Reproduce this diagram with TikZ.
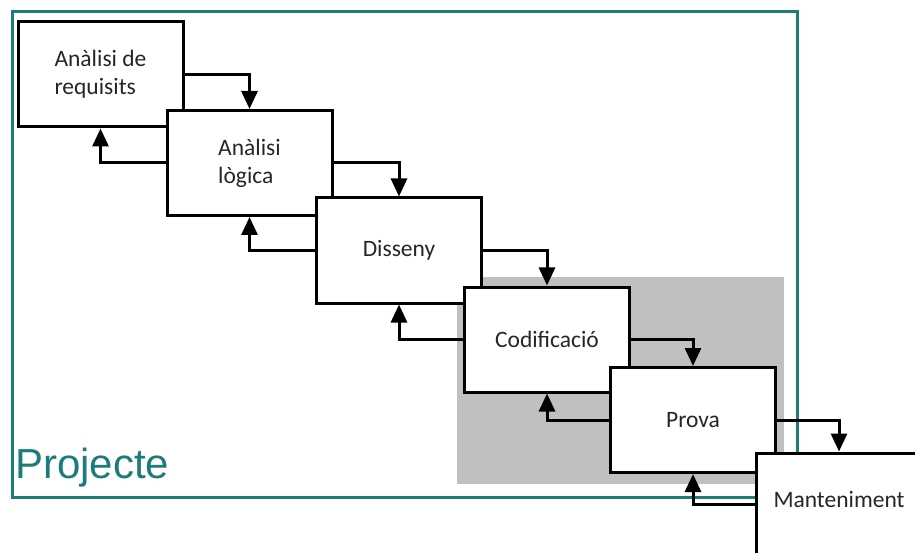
\documentclass[tikz,border=0pt]{standalone}
\usepackage{fontspec}
\setmainfont{Carlito}
\newfontfamily\projfont{Liberation Sans}
\usetikzlibrary{arrows.meta}
\definecolor{frameteal}{HTML}{1E7B7B}
\definecolor{areagray}{HTML}{C0C0C0}
\definecolor{txtc}{HTML}{262626}
\tikzset{
  phasebox/.style={draw=black, line width=3pt, fill=white, minimum width=165pt, minimum height=105pt, inner sep=0pt, text=txtc, font=\fontsize{23.5}{28}\selectfont, align=left},
  phasetext/.style={inner sep=0pt, text=txtc, font=\fontsize{23.5}{28}\selectfont},
  flow/.style={line width=3pt, -{Triangle[width=16pt,length=18pt]}}
}
\begin{document}
\begin{tikzpicture}[x=1pt,y=-1pt]
\useasboundingbox (0,0) rectangle (915,553);
\clip (0,0) rectangle (915,553);
\fill[white] (0,0) rectangle (915,553);
% project frame
\draw[frameteal, line width=3pt] (12,12) rectangle (797,497);
\node[anchor=base west, inner sep=0pt, text=frameteal, font=\projfont\fontsize{42}{42}\selectfont] (proj) at (15,478) {Projecte};
% shaded area
\fill[areagray] (457,277) rectangle (784,484);
% boxes and arrows
\node[phasebox] (b1) at (100.5,74.5) {Anàlisi de\\requisits};
\node[phasebox] (b2) at (249.5,163) {Anàlisi\\lògica};
\draw[flow] (b1.east) -| (b2.north);
\draw[flow] (b2.west) -| (b1.south);
\node[phasebox] (b3) at (399,250.5) {Disseny};
\draw[flow] (b2.east) -| (b3.north);
\draw[flow] (b3.west) -| (b2.south);
\node[phasebox] (b4) at (547,339.5) {Codificació};
\draw[flow] (b3.east) -| (b4.north);
\draw[flow] (b4.west) -| (b3.south);
\node[phasebox] (b5) at (693,420) {Prova};
\draw[flow] (b4.east) -| (b5.north);
\draw[flow] (b5.west) -| (b4.south);
\node[phasebox, minimum height=110pt] (b6) at (839,508) {};
\node[phasetext] (t6) at (839,499) {Manteniment};
\draw[flow] (b5.east) -| (b6.north);
\draw[flow] (b6.west |- 0,504) -| (b5.south);
\end{tikzpicture}
\end{document}
